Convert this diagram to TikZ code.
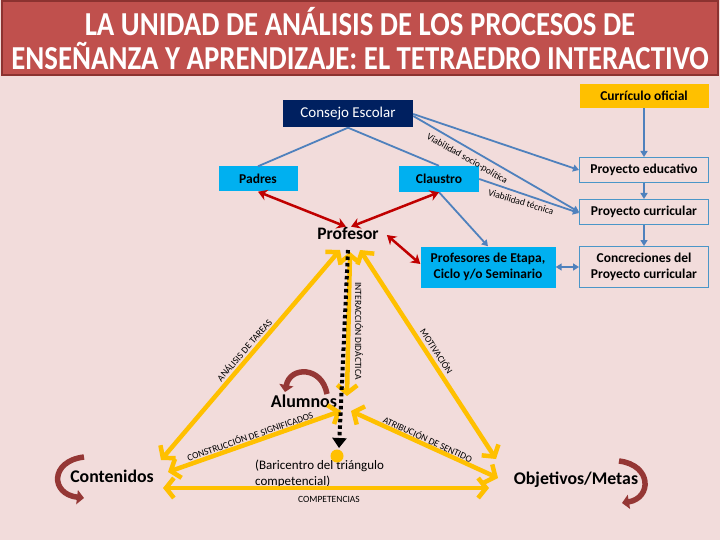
\documentclass[tikz,border=0pt]{standalone}
\usepackage{fontspec}
\setmainfont{Carlito}
\newfontfamily\titlefont[FakeStretch=0.86]{Carlito}
\usetikzlibrary{arrows.meta}
\definecolor{bgpink}{RGB}{242,220,219}
\definecolor{bannerred}{RGB}{192,80,77}
\definecolor{bannerdark}{RGB}{140,50,48}
\definecolor{ygold}{RGB}{255,192,0}
\definecolor{navy}{RGB}{0,32,96}
\definecolor{cyanbox}{RGB}{0,176,240}
\definecolor{blueline}{RGB}{79,129,189}
\definecolor{boxborder}{RGB}{75,150,200}
\definecolor{darkred}{RGB}{192,0,0}
\definecolor{maroon}{RGB}{149,55,53}
\tikzset{
  box/.style={inner sep=0pt, align=center, font=\fontsize{13.5}{16}\selectfont\bfseries},
  navybox/.style={box, fill=navy, text=white, font=\fontsize{15}{17}\selectfont},
  goldbox/.style={box, fill=ygold},
  cyanb/.style={box, fill=cyanbox},
  linebox/.style={box, draw=boxborder, line width=1pt, fill=bgpink},
  bigtext/.style={inner sep=0pt, font=\fontsize{17.5}{20}\selectfont\bfseries},
  edgelab/.style={inner sep=0pt, font=\fontsize{9.5}{10}\selectfont},
  yarr/.style={draw=ygold, line width=4.5pt, {Straight Barb[length=8pt,width=20pt]}-{Straight Barb[length=8pt,width=20pt]}},
  rarr/.style={draw=darkred, line width=2.5pt, {Stealth[length=9pt,width=11pt]}-{Stealth[length=9pt,width=11pt]}},
  barr/.style={draw=blueline, line width=1.8pt, -{Triangle[length=6pt,width=7pt]}},
  bline/.style={draw=blueline, line width=1.8pt},
  bdarr/.style={draw=blueline, line width=1.8pt, {Triangle[length=6pt,width=7pt]}-{Triangle[length=6pt,width=7pt]}},
  curvarr/.style={draw=maroon, line width=5.5pt, -{Triangle[length=7pt,width=14pt]}},
}
\begin{document}
\begin{tikzpicture}[x=1pt,y=-1pt]
\useasboundingbox (0,0) rectangle (720,540);
\fill[bgpink] (0,0) rectangle (720,540);
% title banner
\node[fill=bannerred, draw=bannerdark, line width=2.5pt, minimum width=716pt, minimum height=74pt, inner sep=0pt] (banner) at (360,38) {};
\node[text=white, inner sep=0pt, font=\titlefont\fontsize{33.5}{36}\selectfont\bfseries] (t1) at (360,22) {LA UNIDAD DE ANÁLISIS DE LOS PROCESOS DE};
\node[text=white, inner sep=0pt, font=\titlefont\fontsize{33.5}{36}\selectfont\bfseries] (t2) at (360,56) {ENSEÑANZA Y APRENDIZAJE: EL TETRAEDRO INTERACTIVO};

% boxes
\node[goldbox, minimum width=129pt, minimum height=24pt] (curric) at (644,96) {Currículo oficial};
\node[navybox, minimum width=130pt, minimum height=27pt] (consejo) at (348,114) {Consejo Escolar};
\node[linebox, minimum width=129pt, minimum height=25pt] (proyedu) at (644,170) {Proyecto educativo};
\node[linebox, minimum width=129pt, minimum height=25pt] (proycur) at (644,212) {Proyecto curricular};
\node[linebox, minimum width=129pt, minimum height=41pt] (concr) at (644,267) {Concreciones del\\Proyecto curricular};
\node[cyanb, minimum width=79pt, minimum height=25pt] (padres) at (258,179) {Padres};
\node[cyanb, minimum width=80pt, minimum height=26pt] (claustro) at (439,179) {Claustro};
\node[cyanb, minimum width=135pt, minimum height=41pt] (etapa) at (488,267) {Profesores de Etapa,\\Ciclo y/o Seminario};
\node[bigtext] (prof) at (348,233) {Profesor};
\node[bigtext, font=\fontsize{18}{20}\selectfont\bfseries] (alum) at (304,401) {Alumnos};
\node[bigtext, font=\fontsize{17.8}{20}\selectfont\bfseries] (cont) at (112,476) {Contenidos};
\node[bigtext, font=\fontsize{17.8}{20}\selectfont\bfseries] (obj) at (576,480) {Objetivos/Metas};
\node[inner sep=0pt, align=left, anchor=west, font=\fontsize{13}{15.5}\selectfont] (bari) at (255,474) {(Baricentro del triángulo\\competencial)};

% blue connectors
\draw[bline] (consejo.south) -- (padres.north);
\draw[bline] (consejo.south) -- (claustro.north);
\draw[barr] (consejo.east) -- (proyedu.west);
\draw[barr] ([yshift=-2pt]consejo.east) -- (proycur.west);
\draw[barr] (claustro.east) -- ([yshift=-1pt]proycur.west);
\draw[barr] (claustro.south) -- (etapa.north);
\draw[barr] (curric.south) -- (proyedu.north);
\draw[barr] (proyedu.south) -- (proycur.north);
\draw[barr] (proycur.south) -- (concr.north);
\draw[bdarr] (etapa.east) -- (concr.west);
\node[edgelab, rotate=-30] (vsp) at (467,159) {Viabilidad socio-política};
\node[edgelab, rotate=-17] (vt) at (521,202) {Viabilidad técnica};

% red connectors
\draw[rarr] (padres.south) -- ([xshift=-2pt]prof.north);
\draw[rarr] (claustro.south) -- ([xshift=3pt]prof.north);
\draw[rarr] ([xshift=8pt,yshift=-2pt]prof.east) -- ([yshift=3pt]etapa.west);

% tetrahedron corners
\coordinate (tl) at (340,250);
\coordinate (tr) at (360,250);
\coordinate (tv) at (350,252);
\coordinate (av) at (347,396);
\coordinate (cl) at (161,460);
\coordinate (cl2) at (168,472);
\coordinate (cb) at (163,488);
\coordinate (orr) at (496,459);
\coordinate (ob) at (489,488);
\coordinate (or2) at (498,478);
\coordinate (al1) at (341,411);
\coordinate (al2) at (351,411);
\coordinate (dtop) at (348,250);
\coordinate (dbot) at (339,448);

\draw[yarr] (cl) -- (tl);
\draw[yarr] (orr) -- (tr);
\draw[yarr] (tv) -- (av);
\draw[yarr] (cb) -- (ob);
\draw[yarr] (cl2) -- (al1);
\draw[yarr] (or2) -- (al2);
\draw[line width=4pt, dash pattern=on 3.5pt off 3pt, -{Triangle[length=10pt,width=14pt]}] (dtop) -- (dbot);
\fill[ygold] (337,456) circle (6.5pt);
\node[circle, inner sep=0pt, minimum size=0pt] (bary) at (337,456) {};

% edge labels
\node[edgelab, rotate=49] (lat) at (244,350) {ANÁLISIS DE TAREAS};
\node[edgelab, rotate=-90] (lid) at (359,331) {INTERACCIÓN DIDÁCTICA};
\node[edgelab, rotate=-57] (lmot) at (437,351) {MOTIVACIÓN};
\node[edgelab, rotate=19] (lcs) at (250,436) {CONSTRUCCIÓN DE SIGNIFICADOS};
\node[edgelab, rotate=-25] (las) at (428,439) {ATRIBUCIÓN DE SENTIDO};
\node[edgelab] (lcomp) at (329,499) {COMPETENCIAS};

% curved maroon arrows
\draw[curvarr] (327,394) .. controls (322,366) and (290,366) .. (285,392);
\draw[curvarr] (84,457) .. controls (50,461) and (50,494) .. (84,498);
\draw[curvarr] (619,461) .. controls (652,465) and (652,498) .. (622,503);
\end{tikzpicture}
\end{document}
